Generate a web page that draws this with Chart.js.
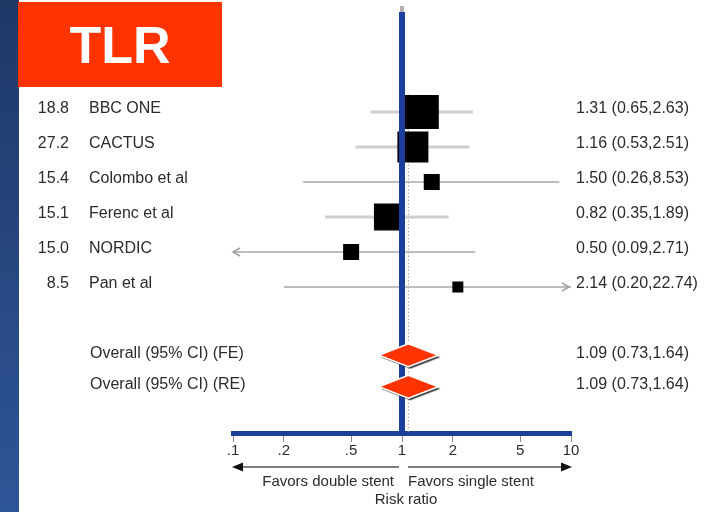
<!DOCTYPE html>
<html>
<head>
<meta charset="utf-8">
<script src="https://cdn.jsdelivr.net/npm/chart.js@4.4.1/dist/chart.umd.min.js"></script>
<style>
  html, body { margin: 0; padding: 0; background: #fff; }
  #wrap { position: relative; width: 704px; height: 512px; overflow: hidden; }
  #strip { position: absolute; left: 0; top: 0; width: 19px; height: 512px;
           background: linear-gradient(to bottom, #1f3866, #2e5598); }
  #badge { position: absolute; left: 18px; top: 2px; width: 204px; height: 85px;
           background: #ff3300; color: #fff; font: bold 52px "Liberation Sans", Arial, sans-serif;
           display: flex; align-items: center; justify-content: center; }
  #chart { position: absolute; left: 0; top: 0; }
</style>
</head>
<body>
<div id="wrap">
  <div id="strip"></div>
  <canvas id="chart" width="704" height="512"></canvas>
  <div id="badge">TLR</div>
</div>
<script>
// Study rows (top to bottom)
const studies = ['BBC ONE', 'CACTUS', 'Colombo et al', 'Ferenc et al', 'NORDIC', 'Pan et al'];
const weights = [18.8, 27.2, 15.4, 15.1, 15.0, 8.5];
const riskRatio = [1.31, 1.16, 1.50, 0.82, 0.50, 2.14];
const lower = [0.65, 0.53, 0.26, 0.35, 0.09, 0.20];
const upper = [2.63, 2.51, 8.53, 1.89, 2.71, 22.74];

// Pooled estimates
const overallLabels = ['Overall (95% CI) (FE)', 'Overall (95% CI) (RE)'];
const overallRR = [1.09, 1.09];
const overallLower = [0.73, 0.73];
const overallUpper = [1.64, 1.64];

// x axis
const tickValues = [0.1, 0.2, 0.5, 1, 2, 5, 10];
const tickLabels = ['.1', '.2', '.5', '1', '2', '5', '10'];

// layout bits (not data)
const overallRows = [6.95, 7.85];
const boxSide = [34, 31, 16, 27, 16, 11];
const ciWidth = [3, 3, 1.5, 3, 1.5, 1.5];
const ciColor = ['#cfcfcf', '#cfcfcf', '#a8a8a8', '#cfcfcf', '#a8a8a8', '#a8a8a8'];
const FONT = '"Liberation Sans", Arial, sans-serif';
const TEXT = '#2b2b2b';

const fmt = (v, lo, hi) => `${v.toFixed(2)} (${lo.toFixed(2)},${hi.toFixed(2)})`;

function arrowOpen(ctx, x, y, dir) {
  ctx.beginPath();
  ctx.moveTo(x - dir * 7, y - 4);
  ctx.lineTo(x, y);
  ctx.lineTo(x - dir * 7, y + 4);
  ctx.stroke();
}

function arrowSolid(ctx, x, y, dir) {
  ctx.beginPath();
  ctx.moveTo(x, y);
  ctx.lineTo(x - dir * 11, y - 4.5);
  ctx.lineTo(x - dir * 11, y + 4.5);
  ctx.closePath();
  ctx.fill();
}

const forestPlugin = {
  id: 'forest',
  beforeDatasetsDraw(chart) {
    const { ctx, scales: { x, y }, chartArea } = chart;
    // dotted line at pooled estimate
    const px = x.getPixelForValue(overallRR[0]);
    ctx.save();
    ctx.strokeStyle = '#9a9a9a';
    ctx.lineWidth = 1;
    ctx.setLineDash([1.5, 2]);
    ctx.beginPath();
    ctx.moveTo(px, y.getPixelForValue(-0.5));
    ctx.lineTo(px, chartArea.bottom);
    ctx.stroke();
    ctx.restore();
  },
  afterDatasetsDraw(chart) {
    const { ctx, scales: { x, y }, chartArea } = chart;
    ctx.save();
    // arrows for clipped CIs
    ctx.strokeStyle = '#a0a0a0';
    ctx.lineWidth = 1.5;
    studies.forEach((s, i) => {
      const py = y.getPixelForValue(i);
      if (lower[i] < x.min) arrowOpen(ctx, chartArea.left, py, -1);
      if (upper[i] > x.max) arrowOpen(ctx, chartArea.right - 2, py, 1);
    });
    // line of no effect
    const one = x.getPixelForValue(1);
    ctx.strokeStyle = '#1b3f9b';
    ctx.lineWidth = 6;
    ctx.beginPath();
    ctx.moveTo(one, chartArea.top);
    ctx.lineTo(one, chartArea.bottom);
    ctx.stroke();
    ctx.fillStyle = '#b0b0b0';
    ctx.fillRect(one - 2, chartArea.top - 6, 4, 6);
    // pooled diamonds
    overallRows.forEach((row, i) => {
      const py = y.getPixelForValue(row);
      const h = 11.5;
      ctx.save();
      ctx.shadowColor = 'rgba(0,0,0,0.75)';
      ctx.shadowOffsetX = 2;
      ctx.shadowOffsetY = 2;
      ctx.shadowBlur = 1;
      ctx.beginPath();
      ctx.moveTo(x.getPixelForValue(overallLower[i]), py);
      ctx.lineTo(x.getPixelForValue(overallRR[i]), py - h);
      ctx.lineTo(x.getPixelForValue(overallUpper[i]), py);
      ctx.lineTo(x.getPixelForValue(overallRR[i]), py + h);
      ctx.closePath();
      ctx.fillStyle = '#ff3300';
      ctx.fill();
      ctx.restore();
      ctx.strokeStyle = '#ffffff';
      ctx.lineWidth = 1.5;
      ctx.stroke();
    });
    ctx.restore();
  },
  afterDraw(chart) {
    const { ctx, scales: { x, y } } = chart;
    ctx.save();
    ctx.fillStyle = TEXT;
    ctx.textBaseline = 'middle';
    ctx.font = `16px ${FONT}`;
    const dy = -3;
    studies.forEach((s, i) => {
      const py = y.getPixelForValue(i) + dy;
      ctx.textAlign = 'right';
      ctx.fillText(weights[i].toFixed(1), 69, py);
      ctx.textAlign = 'left';
      ctx.fillText(s, 89, py);
      ctx.fillText(fmt(riskRatio[i], lower[i], upper[i]), 576, py);
    });
    overallLabels.forEach((s, i) => {
      const py = y.getPixelForValue(overallRows[i]) + dy + 1;
      ctx.textAlign = 'left';
      ctx.fillText(s, 90, py);
      ctx.fillText(fmt(overallRR[i], overallLower[i], overallUpper[i]), 576, py);
    });

    // favors arrows under the axis
    const left = x.getPixelForValue(x.min);
    const right = x.getPixelForValue(x.max);
    const one = x.getPixelForValue(1);
    const ay = 467;
    ctx.strokeStyle = '#555';
    ctx.fillStyle = '#111';
    ctx.lineWidth = 1.5;
    ctx.beginPath();
    ctx.moveTo(left + 4, ay);
    ctx.lineTo(one - 3, ay);
    ctx.moveTo(one + 6, ay);
    ctx.lineTo(right - 4, ay);
    ctx.stroke();
    arrowSolid(ctx, left - 1, ay, -1);
    arrowSolid(ctx, right + 1, ay, 1);

    ctx.fillStyle = TEXT;
    ctx.font = `15px ${FONT}`;
    ctx.textAlign = 'right';
    ctx.fillText('Favors double stent', one - 8, 482);
    ctx.textAlign = 'left';
    ctx.fillText('Favors single stent', one + 6, 482);
    ctx.textAlign = 'center';
    ctx.fillText('Risk ratio', one + 4, 500);
    ctx.restore();
  }
};

const ciSets = studies.map((s, i) => ({
  type: 'line',
  label: s + ' CI',
  data: [{ x: lower[i], y: i }, { x: upper[i], y: i }],
  borderColor: ciColor[i],
  borderWidth: ciWidth[i],
  pointRadius: 0,
  order: 2
}));

const boxSet = {
  type: 'scatter',
  label: 'Risk ratio',
  data: riskRatio.map((v, i) => ({ x: v, y: i })),
  pointStyle: 'rect',
  pointRadius: boxSide.map(s => s / Math.SQRT2),
  backgroundColor: '#000',
  borderColor: '#000',
  borderWidth: 0,
  order: 1
};

new Chart(document.getElementById('chart'), {
  type: 'scatter',
  data: { datasets: [...ciSets, boxSet] },
  options: {
    responsive: false,
    animation: false,
    layout: { autoPadding: false, padding: { left: 233, right: 133, top: 12, bottom: 52 } },
    plugins: {
      legend: { display: false },
      tooltip: { enabled: false }
    },
    scales: {
      x: {
        type: 'logarithmic',
        min: 0.1,
        max: 10,
        afterBuildTicks: scale => { scale.ticks = tickValues.map(v => ({ value: v })); },
        ticks: {
          autoSkip: false,
          maxRotation: 0,
          padding: 0,
          color: TEXT,
          font: { family: FONT, size: 15 },
          callback: (v, i) => tickLabels[i]
        },
        grid: { drawOnChartArea: false, tickLength: 9, color: '#8a8a8a', lineWidth: 1 },
        border: { display: true, color: '#1b3f9b', width: 5 }
      },
      y: {
        display: false,
        reverse: true,
        min: -2.857,
        max: 9.171
      }
    }
  },
  plugins: [forestPlugin]
});
</script>
</body>
</html>
